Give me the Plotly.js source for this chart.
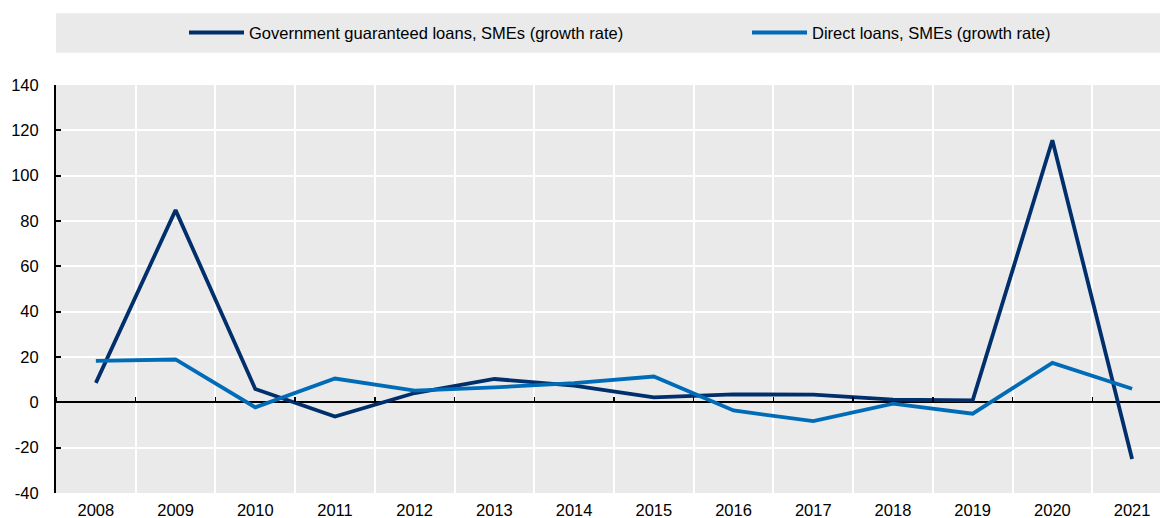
<!DOCTYPE html>
<html>
<head>
<meta charset="utf-8">
<script src="https://cdn.plot.ly/plotly-3.0.1.min.js"></script>
<style>html,body{margin:0;padding:0;background:#fff;}#chart{width:1162px;height:518px;}</style>
</head>
<body>
<div id="chart"></div>
<script>
const years = ['2008','2009','2010','2011','2012','2013','2014','2015','2016','2017','2018','2019','2020','2021'];
const govGuaranteed = [8.6, 84.8, 5.9, -6.3, 4.1, 10.3, 7.4, 2.2, 3.5, 3.4, 1.2, 0.9, 115.6, -25.0];
const directLoans = [18.3, 18.9, -2.2, 10.5, 5.2, 6.6, 8.5, 11.4, -3.6, -8.3, -0.6, -5.0, 17.4, 6.0];
const seriesNames = ['Government guaranteed loans, SMEs (growth rate)', 'Direct loans, SMEs (growth rate)'];
const yTicks = [-40, -20, 0, 20, 40, 60, 80, 100, 120, 140];
const yTickLabels = ['-40', '-20', '0', '20', '40', '60', '80', '100', '120', '140'];

const FONT = '"Liberation Sans", Arial, sans-serif';
const FS = 16.5;

const traces = [
  {x: years, y: govGuaranteed, name: seriesNames[0], type: 'scatter', mode: 'lines',
   line: {color: '#002F6C', width: 3.8}, legend: 'legend'},
  {x: years, y: directLoans, name: seriesNames[1], type: 'scatter', mode: 'lines',
   line: {color: '#006BB6', width: 3.8}, legend: 'legend2'},
  {x: years, y: years.map(() => null), xaxis: 'x2', yaxis: 'y', type: 'scatter', mode: 'lines',
   showlegend: false, hoverinfo: 'skip'}
];

const legendCommon = {orientation: 'h', xanchor: 'left', y: 1.128, yanchor: 'middle',
  bgcolor: 'rgba(0,0,0,0)', font: {family: FONT, size: FS, color: '#000'}, itemwidth: 55};

const layout = {
  width: 1162, height: 518,
  margin: {l: 56, r: 2, t: 85, b: 25, autoexpand: false},
  paper_bgcolor: '#ffffff',
  plot_bgcolor: '#EAEAEA',
  font: {family: FONT, size: FS, color: '#000'},
  showlegend: true,
  legend: Object.assign({}, legendCommon, {x: (184 - 56) / 1104}),
  legend2: Object.assign({}, legendCommon, {x: (747 - 56) / 1104}),
  xaxis: {type: 'category', range: [-0.5, 13.35], tickson: 'boundaries', ticks: '',
          showgrid: true, gridcolor: '#ffffff', gridwidth: 2, showline: false, zeroline: false,
          tickfont: {family: FONT, size: FS}, ticklabelstandoff: 5},
  xaxis2: {type: 'category', overlaying: 'x', anchor: 'free', position: 40/180, side: 'top',
           range: [-0.5, 13.35], tickson: 'boundaries', ticks: 'outside', ticklen: 5, tickwidth: 1.5,
           tickcolor: '#000', showticklabels: false, showgrid: false, showline: false, zeroline: false},
  yaxis: {range: [-40, 140], tickvals: yTicks, ticktext: yTickLabels, ticks: 'inside', ticklen: 5, tickwidth: 2, tickcolor: '#000',
          showline: true, linecolor: '#000', linewidth: 2, showgrid: true, gridcolor: '#ffffff', gridwidth: 2,
          zeroline: true, zerolinecolor: '#000', zerolinewidth: 2,
          tickfont: {family: FONT, size: FS}, ticklabelstandoff: 12},
  shapes: [
    {type: 'rect', xref: 'paper', yref: 'paper', x0: 0, x1: 1, y0: 1.079, y1: 1.176,
     fillcolor: '#EAEAEA', line: {width: 0}, layer: 'below'}
  ]
};

Plotly.newPlot('chart', traces, layout, {displayModeBar: false, staticPlot: true});
</script>
</body>
</html>
